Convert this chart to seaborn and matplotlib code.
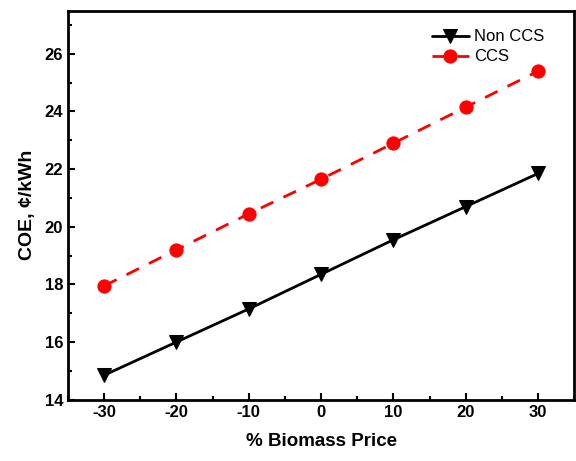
import numpy as np
import pandas as pd
import matplotlib
matplotlib.use("Agg")
import matplotlib.pyplot as plt
import seaborn as sns
from matplotlib.ticker import MultipleLocator

biomass_price = [-30, -20, -10, 0, 10, 20, 30]
non_ccs = [14.85, 16.0, 17.15, 18.35, 19.55, 20.7, 21.85]
ccs = [17.95, 19.2, 20.45, 21.65, 22.9, 24.15, 25.4]

sns.set_style("ticks")
plt.rcParams['font.family'] = ['Liberation Sans', 'DejaVu Sans']
plt.rcParams['axes.unicode_minus'] = False

df = pd.DataFrame({
    "x": biomass_price * 2,
    "y": non_ccs + ccs,
    "series": ["Non CCS"] * len(non_ccs) + ["CCS"] * len(ccs),
})

fig, ax = plt.subplots(figsize=(5.76, 4.61), dpi=100)
fig.subplots_adjust(left=0.118, right=0.997, top=0.977, bottom=0.133)

sns.lineplot(data=df[df.series == "Non CCS"], x="x", y="y", ax=ax, color="black",
             marker="v", markersize=10.5, markeredgecolor="black", linewidth=2,
             label="Non CCS")
sns.lineplot(data=df[df.series == "CCS"], x="x", y="y", ax=ax, color="red",
             marker="o", markersize=9.5, markeredgecolor="red", linewidth=2,
             label="CCS")
ax.lines[1].set_dashes((5, 4))

ax.set_xlim(-35, 35)
ax.set_ylim(14, 27.5)
ax.xaxis.set_major_locator(MultipleLocator(10))
ax.xaxis.set_minor_locator(MultipleLocator(5))
ax.yaxis.set_major_locator(MultipleLocator(2))
ax.yaxis.set_minor_locator(MultipleLocator(1))
ax.tick_params(which="both", direction="in", width=1.5, top=False, right=False,
               colors="black")
ax.tick_params(which="major", length=5)
ax.tick_params(which="minor", length=3)
for lab in ax.get_xticklabels() + ax.get_yticklabels():
    lab.set_fontweight("bold")
    lab.set_fontsize(12)
    lab.set_color("black")
for s in ax.spines.values():
    s.set_linewidth(2)
    s.set_visible(True)
    s.set_color("black")

ax.set_xlabel("% Biomass Price", fontsize=13.5, fontweight="bold", labelpad=10, color="black")
ax.set_ylabel("COE, ¢/kWh", fontsize=14, fontweight="bold", labelpad=6, color="black")

leg = ax.legend(loc="upper right", bbox_to_anchor=(0.97, 0.99), frameon=False,
                fontsize=12, handlelength=2.2, handletextpad=0.3, labelspacing=0.3)
for t in leg.get_texts():
    t.set_color("black")

fig.savefig("out.png", dpi=100)
